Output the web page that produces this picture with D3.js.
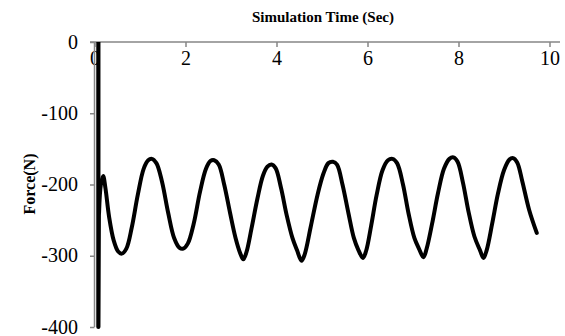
<!DOCTYPE html>
<html>
<head>
<meta charset="utf-8">
<script src="https://cdn.jsdelivr.net/npm/d3@7"></script>
<style>
  html, body { margin: 0; padding: 0; background: #fff; }
  svg { display: block; font-family: "Liberation Serif", "Times New Roman", serif; }
</style>
</head>
<body>
<svg id="chart" width="565" height="336"></svg>
<script>
// Startup transient: the force drops straight to -400 N right after t = 0
const startTime  = [0.085, 0.085, 0.095];
const startForce = [0, -400, -240];

// Oscillating tension after the transient (time in s, force in N)
const time = [
  0.10, 0.14, 0.19, 0.24, 0.32, 0.42, 0.52, 0.60, 0.70, 0.82, 0.95, 1.08, 1.18, 1.26, 1.36,
  1.48, 1.62, 1.75, 1.87, 1.95, 2.05, 2.18, 2.32, 2.45, 2.55, 2.63, 2.73, 2.85, 2.98, 3.10,
  3.20, 3.27, 3.34, 3.45, 3.58, 3.70, 3.80, 3.89, 3.98, 4.10, 4.22, 4.35, 4.45, 4.55, 4.62,
  4.75, 4.90, 5.03, 5.14, 5.24, 5.33, 5.45, 5.58, 5.70, 5.80, 5.90, 5.97, 6.08, 6.20, 6.33,
  6.45, 6.55, 6.65, 6.78, 6.90, 7.03, 7.13, 7.23, 7.30, 7.42, 7.55, 7.68, 7.80, 7.89, 7.98,
  8.10, 8.22, 8.35, 8.47, 8.55, 8.62, 8.74, 8.87, 9.00, 9.12, 9.20, 9.29, 9.40, 9.55, 9.72
];
const force = [
  -240, -200, -188, -205, -245, -278, -294, -297, -290, -260, -215, -178, -166, -164, -170,
  -195, -240, -275, -289, -290, -283, -255, -210, -178, -167, -166, -172, -200, -240, -275,
  -296, -305, -295, -262, -220, -188, -175, -172, -177, -205, -242, -275, -292, -307, -298,
  -260, -215, -185, -170, -168, -172, -200, -240, -275, -292, -303, -293, -258, -215, -180,
  -166, -164, -170, -200, -240, -275, -290, -302, -290, -255, -212, -178, -164, -162, -168,
  -198, -238, -273, -292, -303, -292, -255, -212, -180, -165, -163, -169, -195, -235, -268
];

const xTicks = [0, 2, 4, 6, 8, 10];
const yTicks = [0, -100, -200, -300, -400];

const svg = d3.select("#chart");
const axisColor = "#868686";
const plain = d => String(d);

const x = d3.scaleLinear().domain([0, 10]).range([94.5, 549.5]);
const y = d3.scaleLinear().domain([-400, 0]).range([327, 42]);

// Horizontal axis sits at the top (Force = 0), labels hang below it
const xAxis = svg.append("g")
  .attr("transform", `translate(0,${y(0)})`)
  .call(d3.axisBottom(x).tickValues(xTicks).tickSize(5).tickPadding(4).tickFormat(plain));
xAxis.select(".domain").remove();
xAxis.selectAll(".tick line").attr("stroke", axisColor).attr("stroke-width", 1.5);
xAxis.selectAll(".tick text")
  .attr("font-size", 20).attr("fill", "#000")
  .attr("font-family", "Liberation Serif, Times New Roman, serif");
svg.append("line")
  .attr("x1", x(0) - 4.5).attr("x2", 560)
  .attr("y1", y(0)).attr("y2", y(0))
  .attr("stroke", axisColor).attr("stroke-width", 1.5);

const yAxis = svg.append("g")
  .attr("transform", `translate(${x(0)},0)`)
  .call(d3.axisLeft(y).tickValues(yTicks).tickSize(4.5).tickPadding(12).tickFormat(plain));
yAxis.select(".domain").attr("stroke", axisColor).attr("stroke-width", 1.5).attr("d", `M0,${y(0)}V${y(-400)}`);
yAxis.selectAll(".tick line").attr("stroke", axisColor).attr("stroke-width", 1.5);
yAxis.selectAll(".tick text")
  .attr("font-size", 20).attr("fill", "#000").attr("dy", "0.3em")
  .attr("font-family", "Liberation Serif, Times New Roman, serif");

// Titles
svg.append("text")
  .attr("x", 323).attr("y", 22)
  .attr("text-anchor", "middle")
  .attr("font-size", 15).attr("font-weight", "bold")
  .text("Simulation Time (Sec)");

svg.append("text")
  .attr("transform", "translate(35,184) rotate(-90)")
  .attr("text-anchor", "middle")
  .attr("font-size", 16).attr("font-weight", "bold")
  .text("Force(N)");

// Force trace
const startLine = d3.line()
  .x((d, i) => x(startTime[i]))
  .y((d, i) => y(startForce[i]));
svg.append("path")
  .attr("d", startLine(startTime))
  .attr("fill", "none").attr("stroke", "#000")
  .attr("stroke-width", 4.2).attr("stroke-linejoin", "round");

const line = d3.line()
  .x((d, i) => x(time[i]))
  .y((d, i) => y(force[i]))
  .curve(d3.curveCatmullRom.alpha(0.5));
svg.append("path")
  .attr("d", line(time))
  .attr("fill", "none").attr("stroke", "#000")
  .attr("stroke-width", 4).attr("stroke-linejoin", "round").attr("stroke-linecap", "round");
</script>
</body>
</html>
